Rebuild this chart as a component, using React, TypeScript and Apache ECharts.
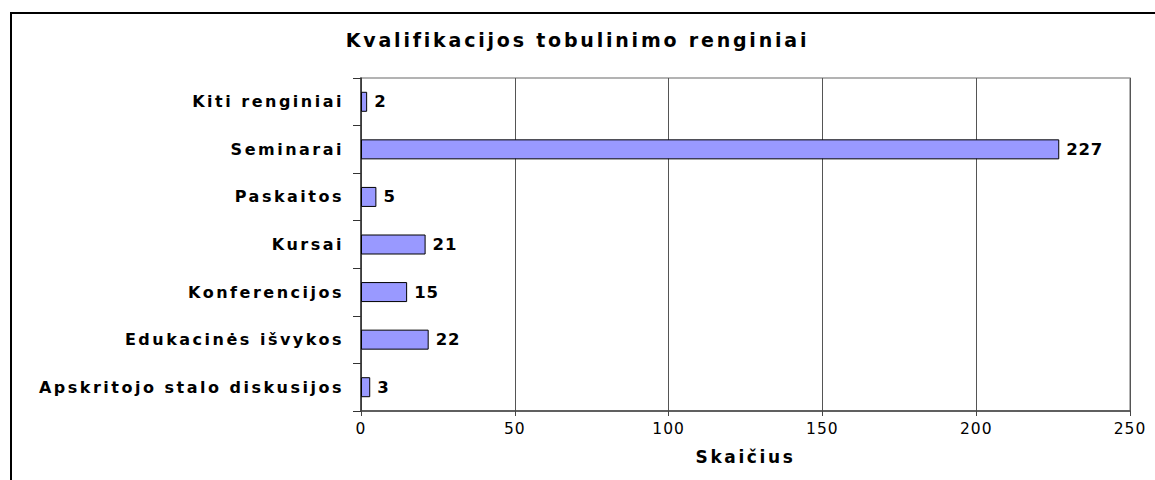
import React, { useEffect, useRef } from "react";
import * as echarts from "echarts";

const titleText = "Kvalifikacijos tobulinimo renginiai";
const categories = [
  "Kiti renginiai",
  "Seminarai",
  "Paskaitos",
  "Kursai",
  "Konferencijos",
  "Edukacinės išvykos",
  "Apskritojo stalo diskusijos",
];
const values = [2, 227, 5, 21, 15, 22, 3];
const xAxisName = "Skaičius";
const xMin = 0;
const xMax = 250;
const xInterval = 50;

const FONT = "DejaVu Sans";

const css = `
#root svg text[style*="19px"] { letter-spacing: 2.8px; }
#root svg text[style*="16px"] { letter-spacing: 2.5px; }
#root svg text[style*="16.5px"] { letter-spacing: 0.8px; }
#root svg text[style*="15.5px"] { letter-spacing: 1px; }
#root svg text[style*="17px"] { letter-spacing: 2.6px; }
`;

export default function App() {
  const ref = useRef<HTMLDivElement>(null);
  useEffect(() => {
    if (!ref.current) return;
    const chart = echarts.init(ref.current, undefined, { renderer: "svg" });
    chart.setOption({
      animation: false,
      backgroundColor: "#ffffff",
      title: {
        text: titleText,
        left: "center",
        top: 25,
        textStyle: { fontFamily: FONT, fontWeight: "bold", fontSize: 19, color: "#000" },
      },
      graphic: [
        {
          type: "rect",
          shape: { x: 11, y: 13, width: 1300, height: 600 },
          style: { fill: "none", stroke: "#000", lineWidth: 2 },
          silent: true,
        },
      ],
      grid: {
        left: 361,
        right: 25,
        top: 78,
        bottom: 69,
        show: true,
        borderColor: "#9a9a9a",
        borderWidth: 1.5,
        backgroundColor: "transparent",
      },
      xAxis: {
        type: "value",
        min: xMin,
        max: xMax,
        interval: xInterval,
        name: xAxisName,
        nameLocation: "middle",
        nameGap: 37,
        nameTextStyle: { fontFamily: FONT, fontWeight: "bold", fontSize: 17, color: "#000" },
        axisLine: { show: true, lineStyle: { color: "#444", width: 1.5 } },
        axisTick: { show: true, length: 5, lineStyle: { color: "#444" } },
        axisLabel: { fontFamily: FONT, fontSize: 15.5, color: "#000", margin: 10 },
        splitLine: { show: true, lineStyle: { color: "#555", width: 1 } },
      },
      yAxis: {
        type: "category",
        data: categories,
        inverse: true,
        axisLine: { show: true, lineStyle: { color: "#333", width: 1.5 } },
        axisTick: { show: true, length: 8, lineStyle: { color: "#333" } },
        axisLabel: { fontFamily: FONT, fontWeight: "bold", fontSize: 16, color: "#000", margin: 17 },
        splitLine: { show: false },
      },
      series: [
        {
          type: "bar",
          data: values,
          barWidth: 20,
          itemStyle: { color: "#9999ff", borderColor: "#000", borderWidth: 1 },
          label: {
            show: true,
            position: "right",
            distance: 7,
            fontFamily: FONT,
            fontWeight: "bold",
            fontSize: 16.5,
            color: "#000",
          },
        },
      ],
    });
    return () => chart.dispose();
  }, []);
  return (
    <>
      <style>{css}</style>
      <div
        ref={ref}
        style={{ position: "fixed", left: 0, top: 0, width: 1155, height: 480, background: "#fff" }}
      />
    </>
  );
}
